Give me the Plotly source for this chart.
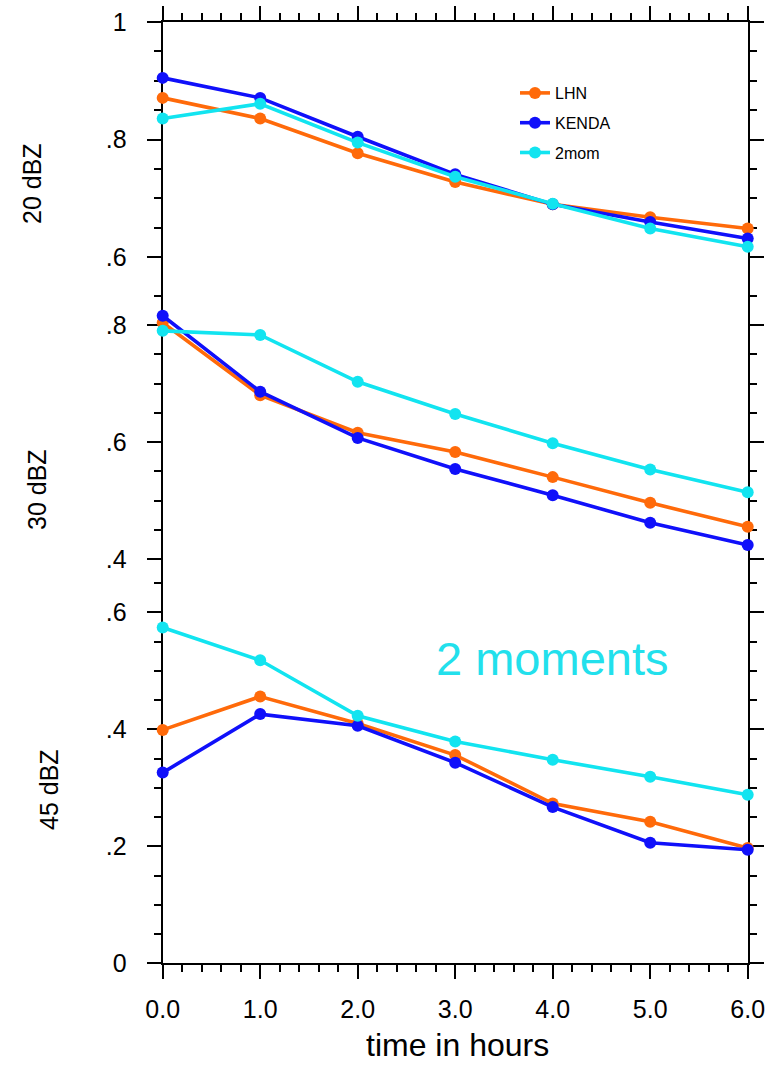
import plotly.graph_objects as go

# ---- data -----------------------------------------------------------------
hours = [0, 1, 2, 3, 4, 5, 6]

series_names = ["LHN", "KENDA", "2mom"]
series_colors = ["#FF6A0A", "#1010FA", "#12E4F0"]

# 20 dBZ threshold
lhn_20 = [0.871, 0.836, 0.777, 0.728, 0.690, 0.668, 0.649]
kenda_20 = [0.905, 0.871, 0.805, 0.741, 0.690, 0.660, 0.632]
mom2_20 = [0.836, 0.861, 0.795, 0.737, 0.691, 0.649, 0.618]

# 30 dBZ threshold
lhn_30 = [0.804, 0.680, 0.616, 0.583, 0.540, 0.496, 0.455]
kenda_30 = [0.816, 0.686, 0.607, 0.554, 0.509, 0.462, 0.424]
mom2_30 = [0.790, 0.783, 0.703, 0.648, 0.598, 0.553, 0.514]

# 45 dBZ threshold
lhn_45 = [0.399, 0.456, 0.410, 0.356, 0.273, 0.242, 0.197]
kenda_45 = [0.326, 0.426, 0.406, 0.343, 0.267, 0.206, 0.194]
mom2_45 = [0.574, 0.518, 0.423, 0.379, 0.348, 0.319, 0.288]

panel_titles = ["20 dBZ", "30 dBZ", "45 dBZ"]
panel_ranges = [[0.575, 1.0], [0.3744, 0.8906], [0.0, 0.6655]]
panel_tickvals = [[0.6, 0.8, 1.0], [0.4, 0.6, 0.8], [0.0, 0.2, 0.4, 0.6]]
panel_ticktext = [[".6", ".8", "1"], [".4", ".6", ".8"], ["0", ".2", ".4", ".6"]]

x_ticktext = ["0.0", "1.0", "2.0", "3.0", "4.0", "5.0", "6.0"]
x_title = "time in hours"
note_text = "2 moments"

panels = [
    [lhn_20, kenda_20, mom2_20],
    [lhn_30, kenda_30, mom2_30],
    [lhn_45, kenda_45, mom2_45],
]

# ---- page geometry (pixels) ----------------------------------------------
W, H = 775, 1066
FONT = "Liberation Sans, Arial, Helvetica, sans-serif"


def px_x(p):
    return p / W


def px_y(p):
    return 1 - p / H


plot_left, plot_right = 162.7, 747.7
panel_edges = [(22.0, 272.0), (272.0, 574.0), (574.0, 963.3)]

fig = go.Figure()

for i, values in enumerate(panels):
    ax = "" if i == 0 else str(i + 1)
    for name, color, ys in zip(series_names, series_colors, values):
        fig.add_trace(
            go.Scatter(
                x=hours,
                y=ys,
                name=name,
                mode="lines+markers",
                line=dict(color=color, width=3.6),
                marker=dict(color=color, size=12),
                cliponaxis=False,
                showlegend=(i == 0),
                legendgroup=name,
                xaxis="x" + ax,
                yaxis="y" + ax,
            )
        )

axis_common = dict(
    showgrid=False,
    zeroline=False,
    automargin=False,
    linecolor="black",
    linewidth=2,
    tickcolor="black",
    tickwidth=2,
    layer="below traces",
)

layout = dict(
    template="none",
    width=W,
    height=H,
    margin=dict(l=0, r=0, t=0, b=0, autoexpand=False),
    paper_bgcolor="white",
    plot_bgcolor="white",
    font=dict(family=FONT, color="black"),
    showlegend=True,
    legend=dict(
        x=px_x(515),
        y=px_y(76),
        xanchor="left",
        yanchor="top",
        bgcolor="rgba(0,0,0,0)",
        borderwidth=0,
        font=dict(size=16, family=FONT, color="black"),
        tracegroupgap=6,
        itemwidth=30,
    ),
)

for i in range(3):
    ax = "" if i == 0 else str(i + 1)
    top, bottom = panel_edges[i]
    ydom = [px_y(bottom), px_y(top)]
    xdom = [px_x(plot_left), px_x(plot_right)]

    xa = dict(
        axis_common,
        domain=xdom,
        range=[0, 6],
        anchor="y" + ax,
        tickmode="array",
        tickvals=hours,
        ticktext=x_ticktext,
    )
    if i == 0:
        xa.update(
            side="top",
            showline=True,
            mirror=False,
            ticks="outside",
            ticklen=14,
            showticklabels=False,
            minor=dict(ticks="outside", ticklen=7, tickwidth=1.5,
                       tickcolor="black", tickmode="linear", tick0=0, dtick=0.2),
        )
    elif i == 2:
        xa.update(
            side="bottom",
            showline=True,
            mirror=False,
            ticks="outside",
            ticklen=14,
            showticklabels=True,
            tickfont=dict(size=25, family=FONT, color="black"),
            ticklabelstandoff=9,
            minor=dict(ticks="outside", ticklen=7, tickwidth=1.5,
                       tickcolor="black", tickmode="linear", tick0=0, dtick=0.2),
        )
    else:
        xa.update(showline=False, ticks="", showticklabels=False)

    ya = dict(
        axis_common,
        domain=ydom,
        range=panel_ranges[i],
        anchor="x" + ax,
        showline=True,
        mirror="ticks",
        ticks="outside",
        ticklen=14,
        tickmode="array",
        tickvals=panel_tickvals[i],
        ticktext=panel_ticktext[i],
        tickfont=dict(size=25, family=FONT, color="black"),
        ticklabelstandoff=15,
        minor=dict(ticks="outside", ticklen=7, tickwidth=1.5,
                   tickcolor="black", tickmode="linear", tick0=0, dtick=0.05),
    )
    layout["xaxis" + ax] = xa
    layout["yaxis" + ax] = ya

title_pos = [(32, 184), (37, 490), (49, 790)]
annotations = []
for text, (tx, ty) in zip(panel_titles, title_pos):
    annotations.append(
        dict(
            text=text,
            x=px_x(tx),
            y=px_y(ty),
            xref="paper",
            yref="paper",
            showarrow=False,
            textangle=-90,
            xanchor="center",
            yanchor="middle",
            font=dict(size=25, family=FONT, color="black"),
        )
    )

annotations.append(
    dict(
        text=x_title,
        x=px_x(457),
        y=px_y(1045),
        xref="paper",
        yref="paper",
        showarrow=False,
        xanchor="center",
        yanchor="middle",
        font=dict(size=32, family=FONT, color="black"),
    )
)

annotations.append(
    dict(
        text=note_text,
        x=px_x(434),
        y=px_y(658),
        xref="paper",
        yref="paper",
        showarrow=False,
        xanchor="left",
        yanchor="middle",
        font=dict(size=47, family=FONT, color="#22E0EC"),
    )
)

layout["annotations"] = annotations
fig.update_layout(layout)

fig.write_html("out.html")
